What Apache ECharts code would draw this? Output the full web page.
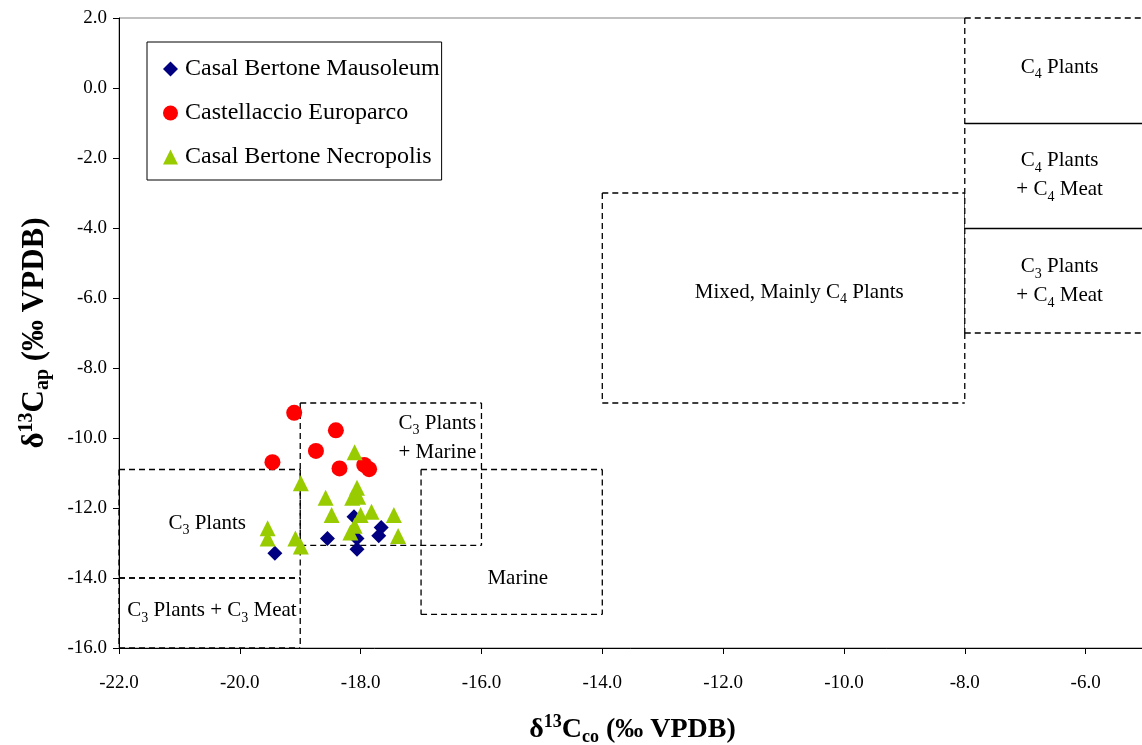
<!DOCTYPE html>
<html>
<head>
<meta charset="utf-8">
<title>δ13C collagen vs apatite</title>
<script src="https://cdn.jsdelivr.net/npm/echarts@6/dist/echarts.min.js"></script>
<style>
  html, body { margin: 0; padding: 0; background: #fff; }
  #chart { width: 1142px; height: 745px; }
</style>
</head>
<body>
<div id="chart"></div>
<script>
// δ13C collagen (x) vs δ13C apatite (y), ‰ VPDB
const seriesNames = ['Casal Bertone Mausoleum', 'Castellaccio Europarco', 'Casal Bertone Necropolis'];

const mausoleum = [
  [-19.42, -13.29], [-18.55, -12.87], [-18.06, -13.18], [-18.06, -12.87],
  [-18.11, -12.25], [-17.66, -12.56], [-17.70, -12.79]
];
const europarco = [
  [-19.10, -9.28], [-18.41, -9.78], [-18.74, -10.37], [-19.46, -10.69],
  [-18.35, -10.87], [-17.94, -10.77], [-17.86, -10.89]
];
const necropolis = [
  [-18.10, -10.41], [-18.99, -11.29], [-18.58, -11.71], [-18.14, -11.71],
  [-18.06, -11.42], [-18.04, -11.68], [-18.48, -12.20], [-18.00, -12.20],
  [-17.82, -12.11], [-17.45, -12.20], [-18.10, -12.51], [-18.17, -12.70],
  [-17.38, -12.80], [-19.54, -12.58], [-19.54, -12.87], [-19.08, -12.87],
  [-18.99, -13.10]
];

// Diet reference fields: [xMin, xMax, yMin, yMax]
const dietFields = [
  [-22, -19, -14, -10.9],   // C3 Plants
  [-22, -19, -16, -14],     // C3 Plants + C3 Meat
  [-19, -16, -13.07, -9],   // C3 Plants + Marine
  [-17, -14, -15.04, -10.9],// Marine
  [-14, -8, -9, -3]         // Mixed, Mainly C4 Plants
];
// C4 column on the right: [xMin, xMax, yMin, yMax] and its inner dividers (y)
const c4Column = [[-8, -5, -7, 2]];
const c4Dividers = [-1, -4];

// Field captions: [x, y, caption]
const fieldCaptions = [
  [-20.54, -12.43, '{n|C}{s|3}{n| Plants}'],
  [-20.46, -14.94, '{n|C}{s|3}{n| Plants + C}{s|3}{n| Meat}'],
  [-16.73, -9.99, '{n|C}{s|3}{n| Plants}\n{n|+ Marine}'],
  [-15.40, -14.00, '{n|Marine}'],
  [-10.74, -5.83, '{n|Mixed, Mainly C}{s|4}{n| Plants}'],
  [-6.43, 0.60, '{n|C}{s|4}{n| Plants}'],
  [-6.43, -2.49, '{n|C}{s|4}{n| Plants}\n{n|+ C}{s|4}{n| Meat}'],
  [-6.43, -5.51, '{n|C}{s|3}{n| Plants}\n{n|+ C}{s|4}{n| Meat}']
];

const xRange = { min: -22, max: -5, step: 2 };
const yRange = { min: -16, max: 2, step: 2 };

const SERIF = '"Liberation Serif", "Times New Roman", serif';

const captionRich = {
  n: { fontSize: 21, fontFamily: SERIF, color: '#000', lineHeight: 29, verticalAlign: 'middle' },
  s: { fontSize: 14, fontFamily: SERIF, color: '#000', lineHeight: 14, verticalAlign: 'bottom' }
};

function titleRich(size, small) {
  return {
    n: { fontSize: size, fontFamily: SERIF, fontWeight: 'bold', color: '#000', lineHeight: size + 5, verticalAlign: 'middle' },
    sup: { fontSize: small, fontFamily: SERIF, fontWeight: 'bold', color: '#000', lineHeight: small, verticalAlign: 'top' },
    sub: { fontSize: small, fontFamily: SERIF, fontWeight: 'bold', color: '#000', lineHeight: small, verticalAlign: 'bottom' }
  };
}

const dashStyle = { stroke: '#000', lineWidth: 1.3, lineDash: [6, 4] };

// Each edge is drawn left→right / top→bottom so shared edges keep the same dash phase
function fieldEdges(api) {
  const tl = api.coord([api.value(0), api.value(3)]);
  const br = api.coord([api.value(1), api.value(2)]);
  const seg = (x1, y1, x2, y2) => ({ type: 'line', shape: { x1, y1, x2, y2 }, style: dashStyle });
  return [
    seg(tl[0], tl[1], br[0], tl[1]),
    seg(tl[0], br[1], br[0], br[1]),
    seg(tl[0], tl[1], tl[0], br[1]),
    seg(br[0], tl[1], br[0], br[1])
  ];
}

const chart = echarts.init(document.getElementById('chart'), null, { renderer: 'canvas' });

chart.setOption({
  animation: false,
  backgroundColor: '#fff',
  grid: {
    left: 119, right: -4, top: 18, bottom: 97,
    containLabel: false,
    outerBoundsMode: 'none',
    show: true, borderColor: '#808080', borderWidth: 1, backgroundColor: 'transparent'
  },
  legend: {
    orient: 'vertical',
    left: 147, top: 42,
    padding: [15, 2, 11, 16],
    itemGap: 20,
    itemWidth: 15, itemHeight: 15,
    borderColor: '#000', borderWidth: 1,
    backgroundColor: '#fff',
    data: [
      { name: seriesNames[0], icon: 'diamond' },
      { name: seriesNames[1], icon: 'circle' },
      { name: seriesNames[2], icon: 'triangle' }
    ],
    textStyle: { fontFamily: SERIF, fontSize: 24, color: '#000', padding: [0, 0, 0, 2] }
  },
  xAxis: {
    type: 'value',
    min: xRange.min, max: xRange.max, interval: xRange.step,
    name: '{n|δ}{sup|13}{n|C}{sub|co}{n| (‰ VPDB)}',
    nameLocation: 'middle',
    nameGap: 65,
    nameTextStyle: { rich: titleRich(28, 18) },
    splitLine: { show: false },
    axisLine: { onZero: false, lineStyle: { color: '#000', width: 1 } },
    axisTick: { show: true, inside: false, length: 6, lineStyle: { color: '#000' } },
    axisLabel: {
      showMaxLabel: false,
      margin: 26,
      fontFamily: SERIF, fontSize: 19, color: '#000',
      formatter: v => v.toFixed(1)
    }
  },
  yAxis: {
    type: 'value',
    min: yRange.min, max: yRange.max, interval: yRange.step,
    name: '{n|δ}{sup|13}{n|C}{sub|ap}{n| (‰ VPDB)}',
    nameLocation: 'middle',
    nameGap: 66,
    nameRotate: 90,
    nameTextStyle: { rich: titleRich(31, 20) },
    splitLine: { show: false },
    axisLine: { onZero: false, lineStyle: { color: '#000', width: 1 } },
    axisTick: { show: true, inside: false, length: 6, lineStyle: { color: '#000' } },
    axisLabel: {
      margin: 12,
      fontFamily: SERIF, fontSize: 19, color: '#000',
      formatter: v => v.toFixed(1)
    }
  },
  series: [
    {
      type: 'custom',
      name: 'fields',
      z: 1,
      silent: true,
      clip: false,
      data: dietFields,
      renderItem: (params, api) => ({ type: 'group', children: fieldEdges(api) })
    },
    {
      type: 'custom',
      name: 'c4column',
      z: 1,
      silent: true,
      clip: false,
      data: c4Column,
      renderItem: (params, api) => {
        const tl = api.coord([api.value(0), api.value(3)]);
        const br = api.coord([api.value(1), api.value(2)]);
        const children = [
          {
            type: 'rect',
            shape: { x: tl[0], y: tl[1] - 2, width: br[0] - tl[0] + 4, height: br[1] - tl[1] + 2 },
            style: { fill: '#fff', stroke: null }
          }
        ].concat(fieldEdges(api));
        c4Dividers.forEach(yv => {
          const y = Math.round(api.coord([api.value(0), yv])[1]) + 0.5;
          children.push({
            type: 'line',
            shape: { x1: tl[0], y1: y, x2: br[0], y2: y },
            style: { stroke: '#000', lineWidth: 1.3 }
          });
        });
        return { type: 'group', children };
      }
    },
    {
      type: 'custom',
      name: 'captions',
      z: 2,
      silent: true,
      clip: false,
      data: fieldCaptions.map(c => [c[0], c[1]]),
      renderItem: (params, api) => {
        const p = api.coord([api.value(0), api.value(1)]);
        return {
          type: 'text',
          x: p[0], y: p[1],
          style: {
            text: fieldCaptions[params.dataIndex][2],
            rich: captionRich,
            fontFamily: SERIF, fontSize: 21, fill: '#000',
            align: 'center', verticalAlign: 'middle'
          }
        };
      }
    },
    {
      type: 'scatter', name: seriesNames[0], data: mausoleum, z: 3,
      symbol: 'diamond', symbolSize: 15,
      itemStyle: { color: '#000080', opacity: 1 }
    },
    {
      type: 'scatter', name: seriesNames[1], data: europarco, z: 4,
      symbol: 'circle', symbolSize: 16,
      itemStyle: { color: '#FF0000', opacity: 1 }
    },
    {
      type: 'scatter', name: seriesNames[2], data: necropolis, z: 5,
      symbol: 'triangle', symbolSize: 16,
      itemStyle: { color: '#99CC00', opacity: 1 }
    }
  ]
});
</script>
</body>
</html>
